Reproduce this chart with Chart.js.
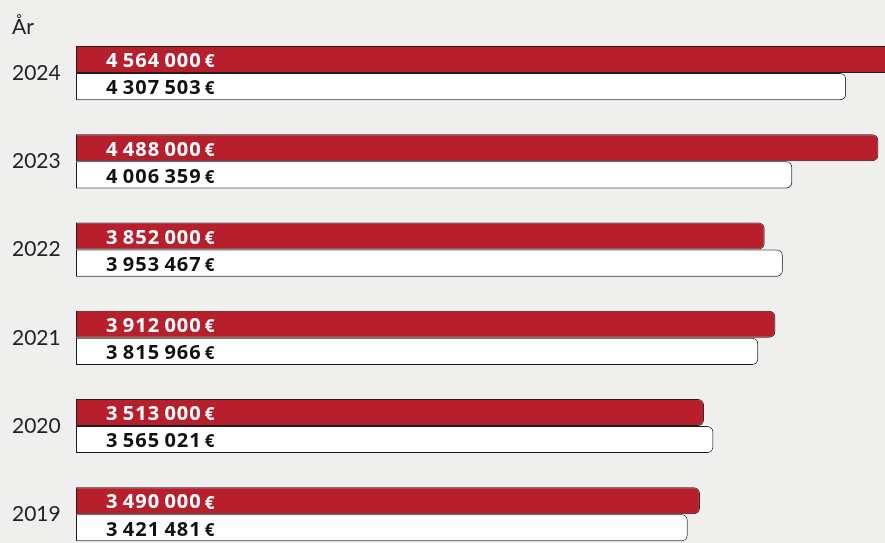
<!DOCTYPE html>
<html>
<head>
<meta charset="utf-8">
<script src="https://cdn.jsdelivr.net/npm/chart.js@4.4.1/dist/chart.umd.min.js"></script>
<style>
    html, body { margin: 0; padding: 0; background: #efefed; overflow: hidden; }
    #wrap { width: 885px; height: 571px; position: relative; }
</style>
</head>
<body>
<div id="wrap"><canvas id="mainChart"></canvas></div>
<script>
// Data
const years = ['2024', '2023', '2022', '2021', '2020', '2019'];
const budget = [4564000, 4488000, 3852000, 3912000, 3513000, 3490000];
const actual = [4307503, 4006359, 3953467, 3815966, 3565021, 3421481];
const axisTitle = 'År';

const RED = '#b81f2d';

// thousands separated by a thin space
function fmt(n) {
    return String(n).replace(/\B(?=(\d{3})+(?!\d))/g, '\u2009');
}

// "År" in the top left corner
const titlePlugin = {
    id: 'cornerTitle',
    afterDraw(chart) {
        const ctx = chart.ctx;
        ctx.save();
        ctx.font = '21px Lato';
        ctx.fillStyle = '#222';
        ctx.textAlign = 'left';
        ctx.textBaseline = 'alphabetic';
        ctx.fillText(axisTitle, 12, 34);
        ctx.restore();
    }
};

// value labels inside the bars
const valuePlugin = {
    id: 'valueLabels',
    afterDatasetsDraw(chart) {
        const ctx = chart.ctx;
        ctx.save();
        chart.data.datasets.forEach((ds, i) => {
            const meta = chart.getDatasetMeta(i);
            meta.data.forEach((bar, j) => {
                const x = bar.base + 30;
                const y = bar.y + 2;
                ctx.fillStyle = i === 0 ? '#fff' : '#111';
                ctx.textBaseline = 'middle';
                ctx.textAlign = 'left';
                ctx.letterSpacing = '1px';
                ctx.font = 'bold 20px "Open Sans"';
                const txt = fmt(ds.data[j]);
                ctx.fillText(txt, x, y);
                const w = ctx.measureText(txt).width;
                ctx.letterSpacing = '0px';
                ctx.font = 'bold 17px "Open Sans"';
                ctx.fillText('€', x + w + 3, y + 1);
            });
        });
        ctx.restore();
    }
};

new Chart(document.getElementById('mainChart'), {
    type: 'bar',
    data: {
        labels: years,
        datasets: [
            {
                data: budget,
                backgroundColor: RED,
                borderColor: '#2a1a1a',
                borderWidth: 1,
                borderSkipped: false,
                borderRadius: { topLeft: 0, bottomLeft: 0, topRight: 6, bottomRight: 6 },
                barPercentage: 1,
                categoryPercentage: 54 / 88
            },
            {
                data: actual,
                backgroundColor: '#ffffff',
                borderColor: '#1a1a1a',
                borderWidth: 1,
                borderSkipped: false,
                borderRadius: { topLeft: 0, bottomLeft: 0, topRight: 6, bottomRight: 6 },
                barPercentage: 1,
                categoryPercentage: 54 / 88
            }
        ]
    },
    options: {
        indexAxis: 'y',
        responsive: true,
        maintainAspectRatio: false,
        animation: false,
        layout: { padding: { left: 12, top: 29, right: 0, bottom: 3 } },
        plugins: {
            legend: { display: false },
            tooltip: { enabled: false }
        },
        scales: {
            x: {
                display: false,
                min: 0,
                max: 4525000
            },
            y: {
                grid: { display: false },
                border: { display: false },
                ticks: {
                    crossAlign: 'far',
                    padding: 0,
                    color: '#222',
                    font: { family: 'Lato', size: 21 }
                },
                afterFit(scale) { scale.width = 64; }
            }
        }
    },
    plugins: [titlePlugin, valuePlugin]
});
</script>
</body>
</html>
